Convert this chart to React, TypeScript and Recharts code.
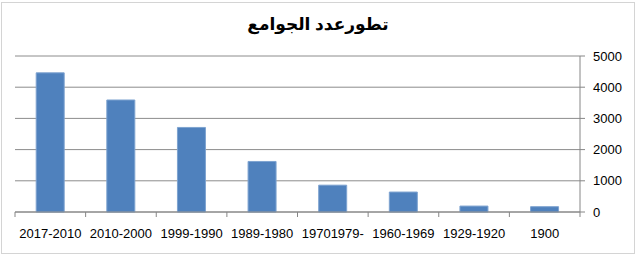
import { BarChart, Bar, XAxis, YAxis, CartesianGrid } from 'recharts'

// categories as shown left to right (right-to-left reading order)
const periods = [
  '2017-2010',
  '2010-2000',
  '1999-1990',
  '1989-1980',
  '19701979-',
  '1960-1969',
  '1929-1920',
  '1900',
]
const mosqueCounts = [4460, 3590, 2710, 1620, 860, 640, 190, 170]
const yTicks = [0, 1000, 2000, 3000, 4000, 5000]

const data = periods.map((p, i) => ({ period: p, count: mosqueCounts[i] }))

const W = 639
const H = 259
const LEFT = 15
const RIGHT_W = 59
const BAND = (W - LEFT - RIGHT_W) / periods.length

/* ── category tick with boundary tick marks ─────────────── */

function CategoryTick(props: any) {
  const { x, y, payload, index } = props
  const isLast = index === periods.length - 1
  return (
    <g>
      <line x1={x - BAND / 2} x2={x - BAND / 2} y1={y} y2={y + 5} stroke="#868686" />
      {isLast ? <line x1={x + BAND / 2} x2={x + BAND / 2} y1={y} y2={y + 5} stroke="#868686" /> : null}
      <text
        x={x}
        y={y + 21}
        textAnchor="middle"
        dominantBaseline="central"
        fontSize={13}
        fill="#000"
        fontFamily="'Liberation Sans', Arial, sans-serif"
      >
        {payload.value}
      </text>
    </g>
  )
}

export default function App() {
  return (
    <div style={{ position: 'absolute', left: 0, top: 0, width: W, height: H, background: '#fff' }}>
      <div
        style={{
          position: 'absolute',
          left: 1,
          top: 2,
          width: 634,
          height: 252,
          border: '1px solid #d4d4d4',
          boxSizing: 'border-box',
        }}
      />
      <div
        dir="rtl"
        style={{
          position: 'absolute',
          left: 0,
          width: 636,
          top: 14,
          textAlign: 'center',
          fontFamily: "Arial, 'DejaVu Sans', sans-serif",
          fontWeight: 'bold',
          fontSize: 17,
          color: '#000',
        }}
      >
        تطورعدد الجوامع
      </div>
      <BarChart
        width={W}
        height={H}
        data={data}
        margin={{ top: 56, right: 0, left: LEFT, bottom: 17 }}
        barCategoryGap="30%"
        style={{ position: 'absolute', left: 0, top: 0 }}
      >
        <CartesianGrid vertical={false} stroke="#8c8c8c" strokeWidth={1} />
        <XAxis
          dataKey="period"
          height={30}
          interval={0}
          tickSize={0}
          tickMargin={0}
          tickLine={false}
          axisLine={{ stroke: '#868686' }}
          tick={<CategoryTick />}
        />
        <YAxis
          orientation="right"
          width={RIGHT_W}
          domain={[0, 5000]}
          ticks={yTicks}
          interval={0}
          tickSize={5}
          tickMargin={8}
          axisLine={{ stroke: '#868686' }}
          tickLine={{ stroke: '#868686' }}
          tick={{ fontSize: 13, fill: '#000', fontFamily: "'Liberation Sans', Arial, sans-serif", textAnchor: 'start' }}
        />
        <Bar dataKey="count" fill="#4F81BD" stroke="#7ea3d0" strokeWidth={1} isAnimationActive={false} />
      </BarChart>
    </div>
  )
}
